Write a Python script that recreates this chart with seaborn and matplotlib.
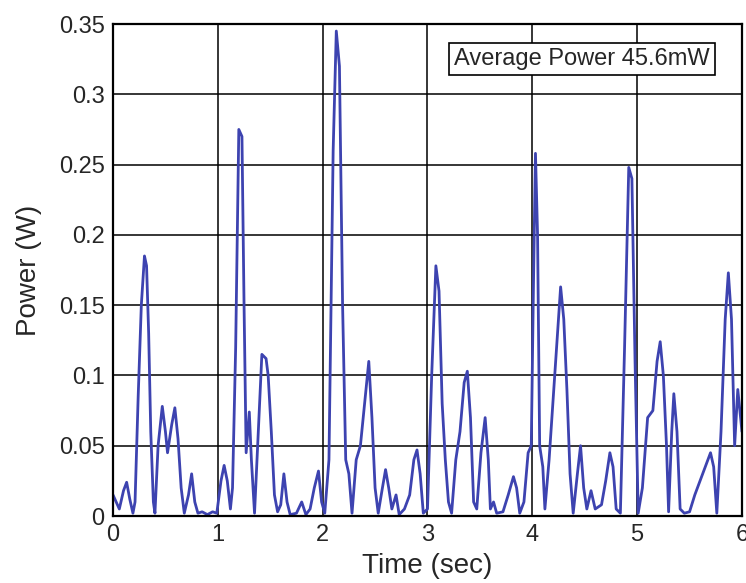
import matplotlib
matplotlib.use("Agg")
import matplotlib.pyplot as plt
import seaborn as sns
import pandas as pd

time_s = [0.00, 0.03, 0.06, 0.10, 0.13, 0.16, 0.19, 0.21, 0.24, 0.27, 0.30, 0.32, 0.34, 0.36, 0.385,
          0.40, 0.43, 0.47, 0.50, 0.52, 0.56, 0.59, 0.62, 0.65, 0.68, 0.72, 0.75, 0.78, 0.81, 0.85,
          0.90, 0.95, 0.99, 1.03, 1.06, 1.09, 1.12, 1.14, 1.17, 1.20, 1.23, 1.25, 1.27, 1.30, 1.32,
          1.35, 1.38, 1.42, 1.46, 1.48, 1.51, 1.54, 1.57, 1.60, 1.63, 1.66, 1.69, 1.75, 1.80, 1.84,
          1.88, 1.92, 1.96, 1.99, 2.02, 2.06, 2.10, 2.13, 2.16, 2.19, 2.22, 2.25, 2.28, 2.32, 2.36,
          2.40, 2.44, 2.47, 2.50, 2.53, 2.57, 2.60, 2.63, 2.66, 2.70, 2.73, 2.78, 2.83, 2.87, 2.90,
          2.93, 2.96, 3.00, 3.04, 3.08, 3.11, 3.14, 3.17, 3.20, 3.23, 3.27, 3.31, 3.35, 3.38, 3.41,
          3.44, 3.47, 3.51, 3.55, 3.58, 3.60, 3.63, 3.66, 3.72, 3.77, 3.82, 3.85, 3.88, 3.92, 3.96,
          3.99, 4.01, 4.03, 4.05, 4.07, 4.10, 4.12, 4.16, 4.20, 4.24, 4.27, 4.30, 4.33, 4.36, 4.39,
          4.43, 4.46, 4.49, 4.52, 4.56, 4.60, 4.66, 4.70, 4.74, 4.77, 4.80, 4.84, 4.88, 4.92, 4.95,
          4.98, 5.01, 5.05, 5.10, 5.15, 5.19, 5.22, 5.25, 5.28, 5.30, 5.33, 5.35, 5.38, 5.41, 5.45,
          5.50, 5.55, 5.60, 5.65, 5.70, 5.73, 5.76, 5.80, 5.84, 5.87, 5.90, 5.93, 5.96, 6.00]
power_w = [0.015, 0.010, 0.005, 0.018, 0.024, 0.012, 0.002, 0.010, 0.085, 0.150, 0.185, 0.178, 0.130, 0.060, 0.010,
           0.002, 0.050, 0.078, 0.060, 0.045, 0.065, 0.077, 0.055, 0.020, 0.002, 0.015, 0.030, 0.010, 0.002, 0.003,
           0.001, 0.003, 0.002, 0.025, 0.036, 0.025, 0.005, 0.020, 0.120, 0.275, 0.270, 0.150, 0.045, 0.074, 0.040,
           0.002, 0.050, 0.115, 0.112, 0.100, 0.060, 0.015, 0.003, 0.008, 0.030, 0.010, 0.001, 0.002, 0.010, 0.001,
           0.005, 0.020, 0.032, 0.010, 0.002, 0.040, 0.260, 0.345, 0.320, 0.150, 0.040, 0.030, 0.002, 0.040, 0.050,
           0.080, 0.110, 0.070, 0.020, 0.002, 0.020, 0.033, 0.020, 0.005, 0.015, 0.001, 0.005, 0.015, 0.040, 0.047,
           0.030, 0.002, 0.005, 0.100, 0.178, 0.160, 0.080, 0.040, 0.010, 0.002, 0.040, 0.060, 0.095, 0.103, 0.070,
           0.010, 0.005, 0.045, 0.070, 0.040, 0.005, 0.010, 0.002, 0.003, 0.015, 0.028, 0.020, 0.002, 0.010, 0.045,
           0.050, 0.160, 0.258, 0.200, 0.050, 0.035, 0.005, 0.040, 0.085, 0.130, 0.163, 0.140, 0.090, 0.030, 0.002,
           0.030, 0.050, 0.020, 0.005, 0.018, 0.005, 0.008, 0.025, 0.045, 0.035, 0.005, 0.002, 0.120, 0.248, 0.240,
           0.110, 0.002, 0.020, 0.070, 0.075, 0.110, 0.124, 0.100, 0.050, 0.003, 0.060, 0.087, 0.060, 0.005, 0.002,
           0.003, 0.015, 0.025, 0.035, 0.045, 0.035, 0.002, 0.060, 0.140, 0.173, 0.140, 0.050, 0.090, 0.060]

x_ticks = [0, 1, 2, 3, 4, 5, 6]
y_ticks = [0, 0.05, 0.1, 0.15, 0.2, 0.25, 0.3, 0.35]
y_tick_labels = ["0", "0.05", "0.1", "0.15", "0.2", "0.25", "0.3", "0.35"]
annotation = "Average Power 45.6mW"

sns.set_style("white")
plt.rcParams['font.family'] = ['Liberation Sans', 'DejaVu Sans']

df = pd.DataFrame({"Time (sec)": time_s, "Power (W)": power_w})

fig = plt.figure(figsize=(7.46, 5.83), dpi=100)
ax = fig.add_axes([0.1515, 0.1149, 0.8431, 0.8439])
sns.lineplot(data=df, x="Time (sec)", y="Power (W)", ax=ax, color="#3d43b0",
             linewidth=2.0, estimator=None, sort=False)

ax.set_xlim(0, 6)
ax.set_ylim(0, 0.35)
ax.set_xticks(x_ticks)
ax.set_yticks(y_ticks)
ax.set_yticklabels(y_tick_labels)
ax.tick_params(axis="both", labelsize=17, direction="in", length=4, color="black", pad=6)
ax.tick_params(axis="x", pad=6)
ax.grid(True, color="black", linewidth=1.1)
ax.set_axisbelow(True)
for s in ax.spines.values():
    s.set_color("black")
    s.set_linewidth(1.6)
ax.set_xlabel("Time (sec)", fontsize=20, labelpad=5)
ax.set_ylabel("Power (W)", fontsize=20, labelpad=12)

ax.text(0.745, 0.929, annotation, transform=ax.transAxes, ha="center", va="center",
        fontsize=17, bbox=dict(boxstyle="square,pad=0.22", facecolor="white",
                               edgecolor="black", linewidth=1.2), zorder=5)

fig.savefig("out.png", dpi=100)
